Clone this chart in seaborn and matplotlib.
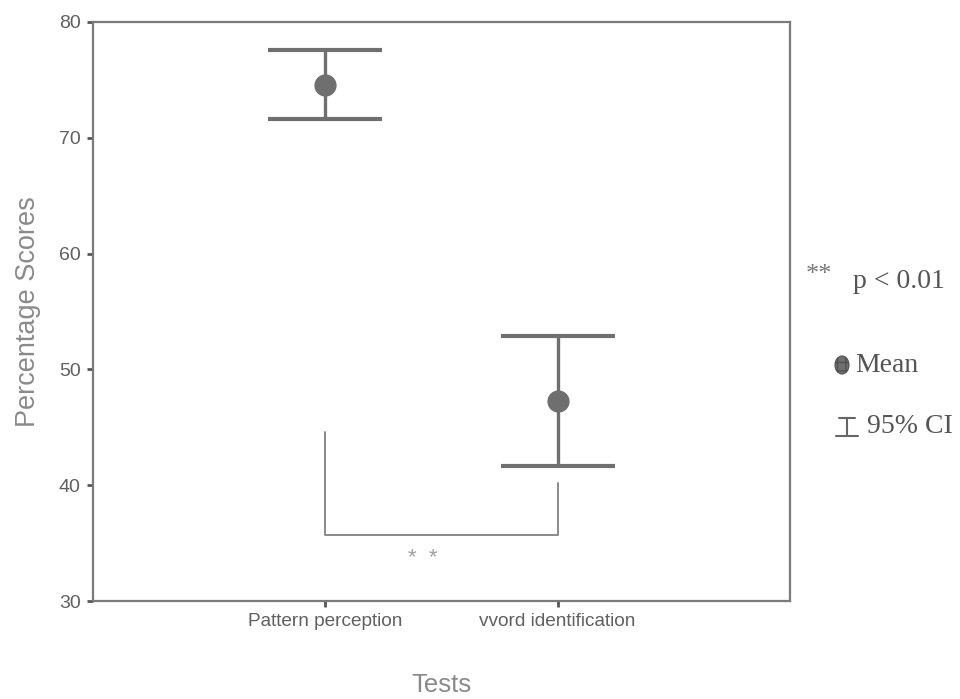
import numpy as np
import pandas as pd
import seaborn as sns
import matplotlib.pyplot as plt
import matplotlib.patches as mpatches
from matplotlib.lines import Line2D

# ── Data ───────────────────────────────────────────────────────
tests = ["Pattern perception", "vvord identification"]
mean_scores = [74.55, 47.25]
ci_lower = [71.6, 41.65]
ci_upper = [77.55, 52.9]

# significance bracket between the two tests
bracket_left_top = 44.6
bracket_right_top = 40.2
bracket_base = 35.7
star_y = 33.7

MARK = "#6f6f6f"
AXIS = "#7a7a7a"

sns.set_style("white")
plt.rcParams["font.family"] = ["Liberation Sans", "DejaVu Sans"]

df = pd.DataFrame({"test": tests, "score": mean_scores})

fig = plt.figure(figsize=(9.6, 6.99), dpi=100)
W, H = 960, 699
ax = fig.add_axes([93 / W, 1 - 601 / H, 697 / W, 579 / H])


def px(x, y):
    """pixel (from top-left) -> figure fraction"""
    return x / W, 1 - y / H


# ── CI bars + means ────────────────────────────────────────────
means = np.array(mean_scores)
yerr = [means - np.array(ci_lower), np.array(ci_upper) - means]
ax.errorbar(
    x=[0, 1], y=means, yerr=yerr, fmt="none",
    ecolor=MARK, elinewidth=2.4, capsize=41, capthick=3, zorder=2,
)
sns.pointplot(
    data=df, x="test", y="score", order=tests,
    color=MARK, linestyle="none", errorbar=None,
    markers="o", markersize=16, markeredgewidth=0, ax=ax, zorder=3,
)

# ── significance bracket ──────────────────────────────────────
ax.plot([0, 0, 1, 1],
        [bracket_left_top, bracket_base, bracket_base, bracket_right_top],
        color="#8a8a8a", lw=1.4, zorder=1)
ax.text(0.42, star_y, "*  *", ha="center", va="center",
        fontsize=16, color="#a0a0a0")

# ── axes styling ──────────────────────────────────────────────
ax.set_xlim(-1, 2)
ax.set_ylim(30, 80)
ax.set_yticks([30, 40, 50, 60, 70, 80])
for s in ax.spines.values():
    s.set_visible(True)
    s.set_color(AXIS)
    s.set_linewidth(1.6)
ax.tick_params(axis="both", direction="out", length=4, width=2,
               color="#555555", labelcolor="#606060", labelsize=14,
               bottom=True, left=True)
ax.tick_params(axis="x", labelsize=13.7, pad=5)
ax.tick_params(axis="y", pad=5)

ax.set_xlabel("Tests", fontsize=18.5, color="#8a8a8a", va="center")
ax.set_ylabel("Percentage Scores", fontsize=19.5, color="#8a8a8a", va="center")
ax.xaxis.set_label_coords(0.5, -0.145)
ax.yaxis.set_label_coords(-0.093, 0.5)

# ── side legend (drawn by hand, like the original) ────────────
serif = ["Liberation Serif", "DejaVu Serif"]
fig.text(*px(806, 275), "**", fontsize=19, color="#777777",
         family=serif, va="center", ha="left")
fig.text(*px(853, 281), "p < 0.01", fontsize=20, color="#555555",
         family=serif, va="center", ha="left")

cx, cy = px(842, 365)
fig.add_artist(mpatches.Ellipse((cx, cy), 14 / W, 18 / H,
                                transform=fig.transFigure,
                                facecolor="#707070", edgecolor="#505050",
                                hatch="++", lw=0.8))
fig.text(*px(855, 366), "Mean", fontsize=20, color="#555555",
         family=serif, va="center", ha="left")

# I-beam symbol for the CI
for xs, ys in [([839, 855], [418, 418]),
               ([847, 847], [418, 436]),
               ([836, 858], [436, 436])]:
    fig.add_artist(Line2D([x / W for x in xs], [1 - y / H for y in ys],
                          transform=fig.transFigure,
                          color="#666666", lw=1.5))
fig.text(*px(867, 427), "95% CI", fontsize=20, color="#555555",
         family=serif, va="center", ha="left")

fig.savefig("out.png", dpi=100)
